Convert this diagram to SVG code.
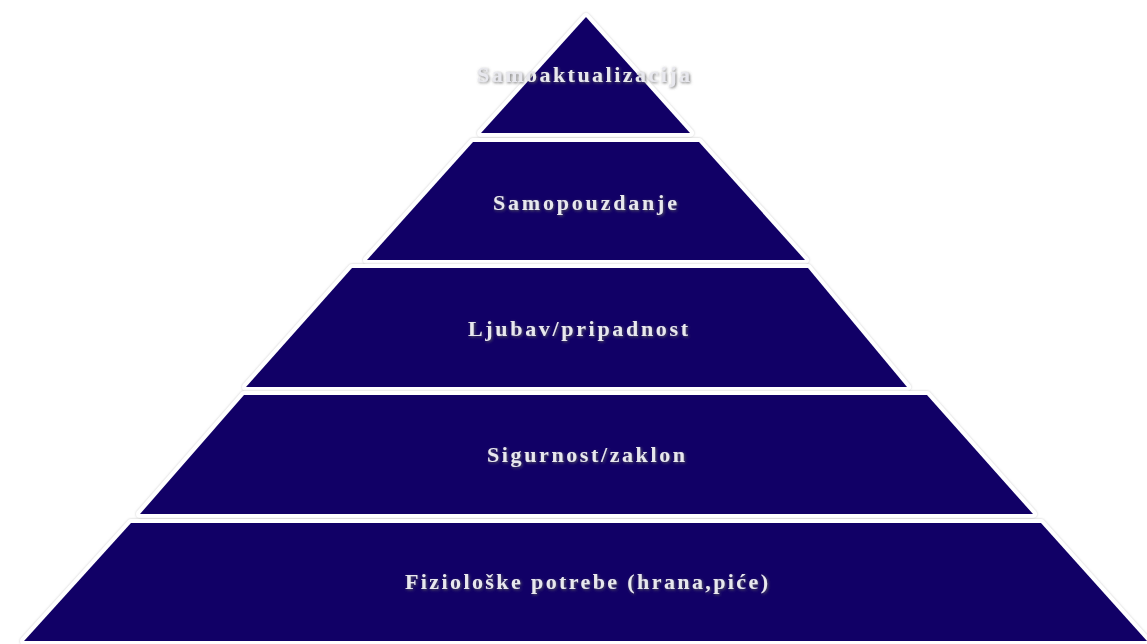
<svg xmlns="http://www.w3.org/2000/svg" width="1147" height="644" viewBox="0 0 1147 644">
  <defs>
    <filter id="sh" x="-10%" y="-10%" width="120%" height="120%">
      <feDropShadow dx="0" dy="0" stdDeviation="1.2" flood-color="#9a9a9a" flood-opacity="0.55"/>
    </filter>
    <filter id="tsh" x="-10%" y="-50%" width="120%" height="200%">
      <feGaussianBlur in="SourceAlpha" stdDeviation="1.8" result="b"/>
      <feOffset in="b" dx="1" dy="1" result="o"/>
      <feFlood flood-color="#5e5e5e" flood-opacity="0.9"/>
      <feComposite in2="o" operator="in" result="s"/>
      <feMerge><feMergeNode in="s"/><feMergeNode in="SourceGraphic"/></feMerge>
    </filter>
  </defs>
  <style>
    .outline { fill: #ffffff; stroke: #ffffff; stroke-width: 8; stroke-linejoin: round; filter: url(#sh); }
    .band { fill: #110066; }
    .lbl { font-family: "Liberation Serif", "Times New Roman", serif; font-weight: bold; font-size: 22px; fill: #e8e8ee; filter: url(#tsh); }
  </style>
  <rect width="1147" height="644" fill="#ffffff"/>
  <g id="level1">
    <polygon class="outline" points="586,17 690,133 481,133"/>
    <polygon class="band" points="586,17 690,133 481,133"/>
  </g>
  <g id="level2">
    <polygon class="outline" points="473,142 699,142 805,260 367,260"/>
    <polygon class="band" points="473,142 699,142 805,260 367,260"/>
  </g>
  <g id="level3">
    <polygon class="outline" points="352,268 808,268 907,387 246,387"/>
    <polygon class="band" points="352,268 808,268 907,387 246,387"/>
  </g>
  <g id="level4">
    <polygon class="outline" points="244,395 927,395 1033,514 140,514"/>
    <polygon class="band" points="244,395 927,395 1033,514 140,514"/>
  </g>
  <g id="level5">
    <polygon class="outline" points="131,523 1041,523 1147,641 24,641"/>
    <polygon class="band" points="131,523 1041,523 1147,641 24,641"/>
  </g>
  <g id="labels">
    <text class="lbl" x="477" y="82" textLength="213" lengthAdjust="spacing">Samoaktualizacija</text>
    <text class="lbl" x="493" y="210" textLength="184" lengthAdjust="spacing">Samopouzdanje</text>
    <text class="lbl" x="468" y="336" textLength="220" lengthAdjust="spacing">Ljubav/pripadnost</text>
    <text class="lbl" x="487" y="462" textLength="198" lengthAdjust="spacing">Sigurnost/zaklon</text>
    <text class="lbl" x="405" y="589" textLength="363" lengthAdjust="spacing">Fiziološke potrebe (hrana,piće)</text>
  </g>
  <g id="connectors"/>
</svg>
